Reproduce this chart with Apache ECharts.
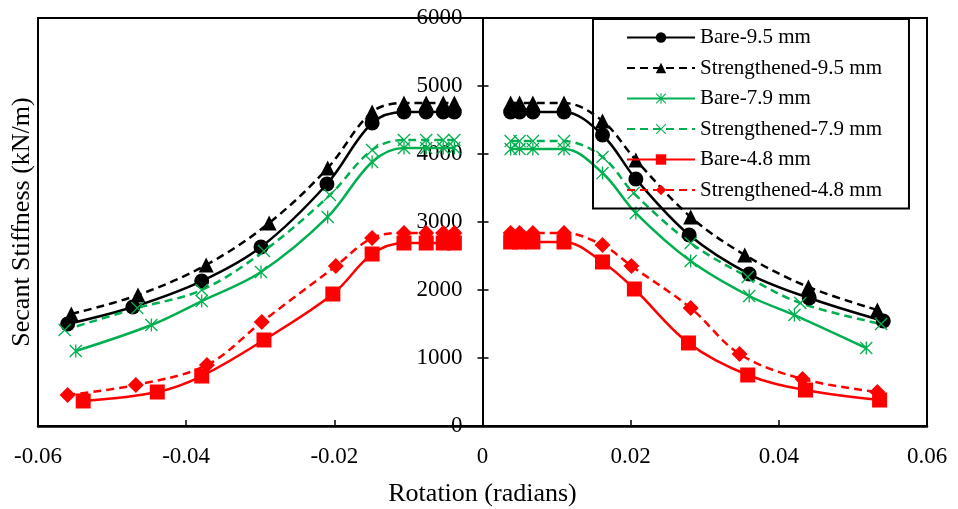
<!DOCTYPE html>
<html><head><meta charset="utf-8">
<script src="https://cdn.jsdelivr.net/npm/echarts@6/dist/echarts.min.js"></script>
<style>html,body{margin:0;padding:0;background:#fff}#c{width:958px;height:509px}</style>
</head><body><div id="c"></div>
<script>
// ---- data (x = rotation in radians, y = secant stiffness kN/m) ----
const names = ['Bare-9.5 mm','Strengthened-9.5 mm','Bare-7.9 mm','Strengthened-7.9 mm','Bare-4.8 mm','Strengthened-4.8 mm'];
const xTicks = [-0.06,-0.04,-0.02,0,0.02,0.04,0.06];
const yTicks = [0,1000,2000,3000,4000,5000,6000];

const bare95Left  = [[-0.0560,1500],[-0.0472,1750],[-0.0379,2132],[-0.0299,2632],[-0.0210,3559],[-0.0149,4456],[-0.0106,4618],[-0.0076,4618],[-0.0053,4618],[-0.0038,4618]];
const bare95Right = [[0.0038,4618],[0.0050,4618],[0.0068,4618],[0.0110,4618],[0.0162,4279],[0.0207,3632],[0.0279,2809],[0.0360,2235],[0.0441,1882],[0.0541,1544]];

const str95Left  = [[-0.0555,1647],[-0.0465,1926],[-0.0373,2368],[-0.0288,2985],[-0.0209,3794],[-0.0149,4618],[-0.0106,4750],[-0.0076,4750],[-0.0053,4750],[-0.0038,4750]];
const str95Right = [[0.0038,4750],[0.0050,4750],[0.0068,4750],[0.0110,4750],[0.0162,4485],[0.0207,3912],[0.0281,3074],[0.0354,2515],[0.0440,2044],[0.0533,1706]];

const bare79Left  = [[-0.0549,1103],[-0.0447,1485],[-0.0379,1838],[-0.0299,2265],[-0.0209,3074],[-0.0149,3882],[-0.0106,4088],[-0.0076,4088],[-0.0053,4088],[-0.0038,4088]];
const bare79Right = [[0.0038,4074],[0.0050,4074],[0.0068,4074],[0.0110,4074],[0.0162,3720],[0.0207,3132],[0.0281,2426],[0.0360,1912],[0.0421,1632],[0.0518,1147]];

const str79Left  = [[-0.0564,1412],[-0.0466,1735],[-0.0379,2000],[-0.0295,2574],[-0.0206,3397],[-0.0149,4059],[-0.0106,4206],[-0.0076,4206],[-0.0053,4206],[-0.0038,4206]];
const str79Right = [[0.0038,4190],[0.0050,4190],[0.0068,4190],[0.0110,4190],[0.0162,3956],[0.0204,3426],[0.0281,2691],[0.0358,2191],[0.0429,1809],[0.0538,1500]];

const bare48Left  = [[-0.0539,368],[-0.0439,500],[-0.0379,735],[-0.0295,1265],[-0.0202,1941],[-0.0149,2529],[-0.0106,2691],[-0.0076,2691],[-0.0053,2691],[-0.0038,2691]];
const bare48Right = [[0.0038,2706],[0.0050,2706],[0.0068,2706],[0.0110,2706],[0.0162,2412],[0.0205,2015],[0.0278,1221],[0.0358,750],[0.0436,529],[0.0536,382]];

const str48Left  = [[-0.0560,456],[-0.0468,603],[-0.0372,897],[-0.0298,1529],[-0.0198,2353],[-0.0149,2765],[-0.0106,2838],[-0.0076,2838],[-0.0053,2838],[-0.0038,2838]];
const str48Right = [[0.0038,2838],[0.0050,2838],[0.0068,2838],[0.0110,2838],[0.0162,2662],[0.0201,2353],[0.0281,1735],[0.0347,1059],[0.0432,691],[0.0533,500]];

// ---- styles ----
const FONT = 'Liberation Serif';
const BLACK = '#000000', GREEN = '#00B050', RED = '#FF0000';
const ASTERISK = 'path://M9,0L11,0L11,20L9,20Z M0,1.4L1.4,0L20,18.6L18.6,20Z M18.6,0L20,1.4L1.4,20L0,18.6Z';
const CROSS = 'path://M0,1.4L1.4,0L20,18.6L18.6,20Z M18.6,0L20,1.4L1.4,20L0,18.6Z';

const styles = [
  {name:names[0], color:BLACK, dash:'solid', symbol:'circle', size:15, parts:[bare95Left,bare95Right]},
  {name:names[1], color:BLACK, dash:[8,5], symbol:'triangle', size:15, parts:[str95Left,str95Right]},
  {name:names[2], color:GREEN, dash:'solid', symbol:ASTERISK, size:13, parts:[bare79Left,bare79Right]},
  {name:names[3], color:GREEN, dash:[8,5], symbol:CROSS, size:13, parts:[str79Left,str79Right]},
  {name:names[4], color:RED, dash:'solid', symbol:'rect', size:15, parts:[bare48Left,bare48Right]},
  {name:names[5], color:RED, dash:[8,5], symbol:'diamond', size:16, parts:[str48Left,str48Right]}
];

const series = [];
styles.forEach(s => {
  s.parts.forEach(part => {
    series.push({
      type:'line', name:s.name, data:part, smooth:0.35,
      symbol:s.symbol, symbolSize:s.size, showAllSymbol:true,
      lineStyle:{color:s.color, width:2.5, type:s.dash},
      itemStyle:{color:s.color, borderWidth:0},
      emphasis:{disabled:true}, animation:false, z:2
    });
  });
});

const GRID_LEFT = 38, GRID_RIGHT = 31;
const plotW = 958 - GRID_LEFT - GRID_RIGHT;
const zeroOffset = -plotW / 2; // y axis sits at x = 0 (centre of symmetric x range)

const yBase = {
  type:'value', min:yTicks[0], max:yTicks[yTicks.length-1], interval:1000,
  position:'left', offset:zeroOffset, splitLine:{show:false}
};

const chart = echarts.init(document.getElementById('c'), null, {renderer:'canvas'});
chart.setOption({
  backgroundColor:'#ffffff',
  animation:false,
  grid:{left:GRID_LEFT, right:GRID_RIGHT, top:18, bottom:83, show:true, borderColor:'#000', borderWidth:2,
        backgroundColor:'transparent', containLabel:false, outerBoundsMode:'none'},
  xAxis:{
    type:'value', min:xTicks[0], max:xTicks[xTicks.length-1], interval:0.02,
    axisLine:{onZero:false, lineStyle:{color:'#000', width:2.5}},
    axisTick:{inside:true, length:6, lineStyle:{color:'#000', width:1.5}},
    axisLabel:{color:'#000', fontFamily:FONT, fontSize:23, margin:19,
      formatter:v => String(Math.round(v*100)/100)},
    splitLine:{show:false},
    name:'Rotation (radians)', nameLocation:'middle', nameGap:55,
    nameTextStyle:{color:'#000', fontFamily:FONT, fontSize:26}
  },
  yAxis:[Object.assign({}, yBase, {
    axisLine:{show:true, onZero:false, lineStyle:{color:'#000', width:2}},
    axisTick:{show:true, inside:false, length:5, lineStyle:{color:'#000', width:1.5}},
    axisLabel:{color:'#000', fontFamily:FONT, fontSize:23, margin:20, formatter:v => String(v)}
  }), Object.assign({}, yBase, {
    axisLine:{show:false, onZero:false},
    axisTick:{show:true, inside:true, length:6, lineStyle:{color:'#000', width:1.5}},
    axisLabel:{show:false}
  })],
  legend:{
    orient:'vertical', left:593, top:19, padding:[8,27,8,33],
    itemWidth:68, itemHeight:13, itemGap:9.5,
    borderColor:'#000', borderWidth:2, backgroundColor:'transparent',
    textStyle:{color:'#000', fontFamily:FONT, fontSize:21, lineHeight:21},
    data:names, selectedMode:false
  },
  graphic:[{
    type:'text', x:22, y:222, rotation:Math.PI/2,
    style:{text:'Secant Stiffness (kN/m)', fill:'#000', font:'26px "Liberation Serif"', align:'center', verticalAlign:'middle'}
  }],
  series:series
});
</script></body></html>
